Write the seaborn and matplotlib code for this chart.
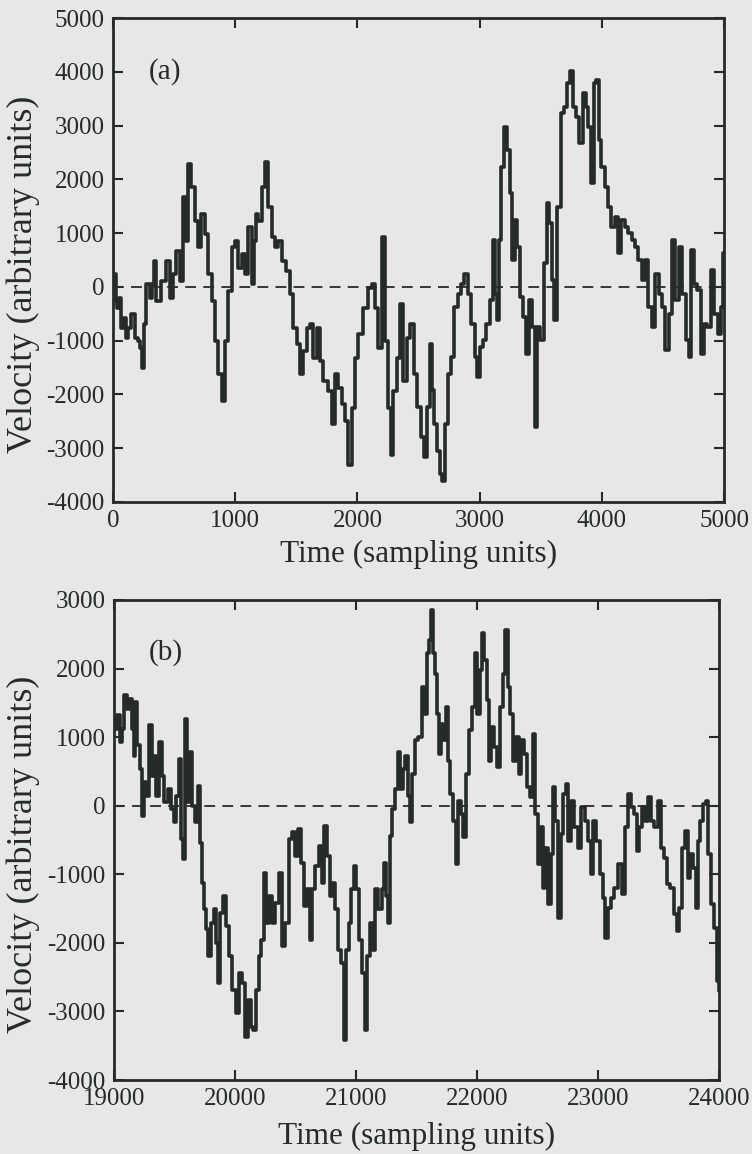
import numpy as np
import pandas as pd
import matplotlib
matplotlib.use("Agg")
import matplotlib.pyplot as plt
import seaborn as sns

# ---------------- data ----------------
time_a = [0, 14, 27, 41, 55, 82, 96, 109, 137, 164, 191, 213, 232, 240, 260, 287, 314, 328, 342, 369,
          410, 451, 478, 505, 533, 560, 587, 607, 623, 656, 683, 710, 738, 765, 792, 820, 847, 874, 902, 929,
          956, 984, 1011, 1038, 1066, 1093, 1120, 1148, 1161, 1175, 1202, 1229, 1251, 1284, 1311, 1339, 1366,
          1393, 1434, 1462, 1489, 1516, 1544, 1571, 1598, 1626, 1653, 1680, 1708, 1735, 1776, 1803, 1831, 1858,
          1885, 1913, 1940, 1967, 1994, 2022, 2063, 2104, 2131, 2158, 2186, 2213, 2235, 2268, 2281, 2309, 2336,
          2363, 2391, 2418, 2445, 2475, 2503, 2530, 2558, 2586, 2599, 2619, 2641, 2669, 2682, 2710, 2729, 2751,
          2779, 2807, 2834, 2862, 2890, 2917, 2945, 2972, 2986, 3014, 3041, 3069, 3097, 3116, 3133, 3152, 3166,
          3188, 3215, 3235, 3254, 3276, 3298, 3318, 3345, 3373, 3392, 3414, 3442, 3464, 3483, 3511, 3539, 3558,
          3580, 3602, 3621, 3649, 3677, 3704, 3732, 3751, 3773, 3801, 3829, 3856, 3878, 3898, 3925, 3945, 3967,
          3981, 4008, 4036, 4063, 4091, 4119, 4146, 4174, 4201, 4229, 4257, 4284, 4312, 4340, 4367, 4395, 4422,
          4450, 4478, 4505, 4533, 4561, 4588, 4616, 4643, 4671, 4699, 4721, 4740, 4768, 4795, 4823, 4851, 4878,
          4906, 4933, 4961, 4989, 5000]
velocity_a = [50, 236, -261, -385, -199, -758, -571, -944, -758, -509, -944, -1006, -1130, -1503, -696, 50,
              -199, 50, 484, -261, 112, 484, -199, 236, 671, 112, 1665, 857, 2286, 1851, 1230, 733, 1354, 981,
              236, -261, -1006, -1627, -2124, -1006, -75, 733, 857, 360, 609, 236, 1106, 50, 857, 1354, 1230,
              1851, 2317, 1478, 919, 733, 857, 484, 298, -137, -758, -1068, -1627, -1192, -758, -696, -1317,
              -758, -1379, -1751, -1938, -2559, -1627, -1876, -2186, -2497, -3304, -2248, -1317, -882, -385,
              -12, 50, -385, -1130, 919, -1006, -2248, -3118, -1938, -1317, -323, -1751, -944, -696, -1615,
              -2236, -2795, -3168, -2236, -1056, -1925, -2547, -3043, -3478, -3602, -2547, -1615, -1304, -373,
              -124, 62, 248, -124, -683, -1304, -1677, -1118, -994, -683, -248, 870, -124, -621, 870, 2236,
              2981, 2547, 1739, 497, 1242, 745, -186, -559, -1242, -248, -745, -2609, -745, -994, 435, 1553,
              1180, 124, -621, 1491, 3230, 3354, 3789, 4006, 3354, 3168, 2671, 3602, 3354, 2981, 1925, 3789,
              3851, 2733, 2236, 1863, 1491, 1118, 1304, 621, 1242, 1118, 994, 870, 745, 497, 124, 497, -373,
              -745, 248, -124, -373, -1180, -497, 870, -248, 745, -124, -994, -1304, 683, 62, -62, -1242, -683,
              -745, 311, -497, -870, -373, 621]

time_b = [19000, 19011, 19033, 19060, 19074, 19093, 19115, 19137, 19156, 19170, 19184, 19203, 19225, 19238,
          19258, 19279, 19301, 19321, 19340, 19362, 19384, 19403, 19430, 19458, 19485, 19504, 19526, 19548,
          19567, 19581, 19595, 19614, 19636, 19658, 19677, 19704, 19718, 19732, 19751, 19773, 19786, 19814,
          19833, 19855, 19869, 19888, 19915, 19937, 19964, 19992, 20025, 20047, 20074, 20093, 20115, 20143,
          20162, 20184, 20206, 20225, 20247, 20266, 20293, 20321, 20348, 20375, 20403, 20430, 20458, 20485,
          20512, 20534, 20554, 20581, 20608, 20630, 20649, 20677, 20704, 20726, 20751, 20773, 20792, 20814,
          20841, 20869, 20891, 20910, 20929, 20951, 20973, 20992, 21011, 21033, 21060, 21082, 21102, 21129,
          21148, 21170, 21197, 21225, 21241, 21258, 21274, 21288, 21307, 21334, 21356, 21376, 21395, 21417,
          21439, 21458, 21472, 21500, 21528, 21556, 21575, 21592, 21608, 21625, 21642, 21658, 21675, 21694,
          21714, 21731, 21750, 21769, 21792, 21814, 21833, 21853, 21875, 21894, 21917, 21944, 21972, 21994,
          22014, 22028, 22047, 22069, 22089, 22108, 22131, 22153, 22181, 22203, 22225, 22244, 22264, 22286,
          22314, 22333, 22356, 22375, 22403, 22431, 22453, 22475, 22492, 22514, 22536, 22556, 22575, 22597,
          22619, 22639, 22658, 22681, 22703, 22722, 22742, 22764, 22792, 22819, 22847, 22875, 22903, 22931,
          22953, 22972, 23000, 23028, 23047, 23069, 23092, 23119, 23147, 23181, 23208, 23236, 23258, 23286,
          23308, 23331, 23353, 23375, 23403, 23425, 23453, 23481, 23508, 23531, 23556, 23583, 23611, 23639,
          23661, 23686, 23708, 23731, 23750, 23772, 23797, 23820, 23836, 23858, 23881, 23897, 23917, 23944,
          23972, 23992, 24000]
velocity_b = [1300, 1122, 1317, 927, 1122, 1610, 1415, 1561, 1122, 732, 1512, 878, 537, -146, 341, 146, 1171,
              439, 732, 146, 927, 439, 49, 244, -49, -244, 146, 683, -488, -780, 1268, 49, 780, 0, -244, 293,
              -537, -1122, -1512, -1805, -2195, -1707, -1512, -2000, -2585, -1561, -1317, -1756, -2195, -2683,
              -3024, -2439, -2585, -3366, -2829, -3220, -3268, -2683, -2195, -1951, -976, -1707, -1317, -1707,
              -1415, -976, -2049, -1707, -488, -390, -732, -341, -829, -1463, -1220, -1951, -1220, -878, -585,
              -1122, -293, -732, -1317, -1122, -1512, -2098, -2293, -3415, -2098, -1707, -1220, -878, -1220,
              -1951, -2439, -3268, -2195, -1707, -2098, -1220, -1512, -1220, -829, -1317, -1707, -439, -49, 244,
              780, 244, 537, 732, 146, -244, 463, 951, 1000, 1732, 1341, 2220, 2415, 2854, 2220, 1927, 1341,
              756, 1195, 951, 1439, 659, 171, -220, -854, 73, -122, -463, 463, 1098, 1439, 2220, 1341, 1976,
              2512, 2122, 1537, 659, 1146, 854, 561, 1439, 1927, 2561, 1732, 1341, 659, 1000, 463, 951, 756, 268,
              122, 1049, -122, -854, -317, -1195, -610, -1439, -707, 268, -220, -1634, -415, 171, 317, -512, 73,
              -317, -610, -24, -220, -512, -1000, -220, -512, -1000, -1341, -1927, -1488, -1341, -1195, -854,
              -1293, -317, 171, -24, -122, -659, -317, -24, -220, 122, -220, -317, 73, -610, -756, -1146, -1195,
              -1585, -1829, -1488, -610, -366, -1049, -707, -902, -1488, -512, -220, 24, 73, -707, -1439, -1780,
              -2561, -2700]

panel_labels = ["(a)", "(b)"]
xlims = [(0, 5000), (19000, 24000)]
ylims = [(-4000, 5000), (-4000, 3000)]
xticks = [[0, 1000, 2000, 3000, 4000, 5000], [19000, 20000, 21000, 22000, 23000, 24000]]
yticks = [[-4000, -3000, -2000, -1000, 0, 1000, 2000, 3000, 4000, 5000],
          [-4000, -3000, -2000, -1000, 0, 1000, 2000, 3000]]
xlabel = "Time (sampling units)"
ylabel = "Velocity (arbitrary units)"

# ---------------- styling ----------------
sns.set_theme(style="ticks")
plt.rcParams["font.family"] = ["Liberation Serif", "DejaVu Serif"]
bg = "#e7e7e5"
ink = "#252a2a"

fig = plt.figure(figsize=(7.52, 11.54), dpi=100, facecolor=bg)
ax_a = fig.add_axes([0.1503, 0.5650, 0.8125, 0.4194])
ax_b = fig.add_axes([0.1516, 0.0641, 0.8045, 0.4160])

frames = [pd.DataFrame({"t": time_a, "v": velocity_a}),
          pd.DataFrame({"t": time_b, "v": velocity_b})]
xlabel_y = [-0.078, -0.088]
ylabel_x = [-0.119, -0.122]

for i, ax in enumerate([ax_a, ax_b]):
    ax.set_facecolor(bg)
    df = frames[i]
    sns.lineplot(data=df, x="t", y="v", ax=ax, color=ink, lw=2.6,
                 estimator=None, sort=False, drawstyle="steps-mid")
    ax.axhline(0, color=ink, lw=1.3, ls=(0, (6, 4)))
    ax.set_xlim(*xlims[i])
    ax.set_ylim(*ylims[i])
    ax.set_xticks(xticks[i])
    ax.set_yticks(yticks[i])
    ax.set_xticklabels([str(v) for v in xticks[i]])
    ax.set_yticklabels([str(v) for v in yticks[i]])
    ax.tick_params(direction="in", top=True, right=True, length=7, width=1.5,
                   labelsize=18, colors=ink, pad=6)
    for s in ax.spines.values():
        s.set_linewidth(2.0)
        s.set_color(ink)
        s.set_visible(True)
    ax.set_xlabel(xlabel, fontsize=22.5, color=ink)
    ax.set_ylabel(ylabel, fontsize=26, color=ink)
    ax.xaxis.set_label_coords(0.5, xlabel_y[i])
    ax.yaxis.set_label_coords(ylabel_x[i], 0.47)
    ax.text(0.085, 0.89, panel_labels[i], transform=ax.transAxes, fontsize=21,
            color=ink, ha="center", va="center")

fig.savefig("out.png", dpi=100, facecolor=bg)
